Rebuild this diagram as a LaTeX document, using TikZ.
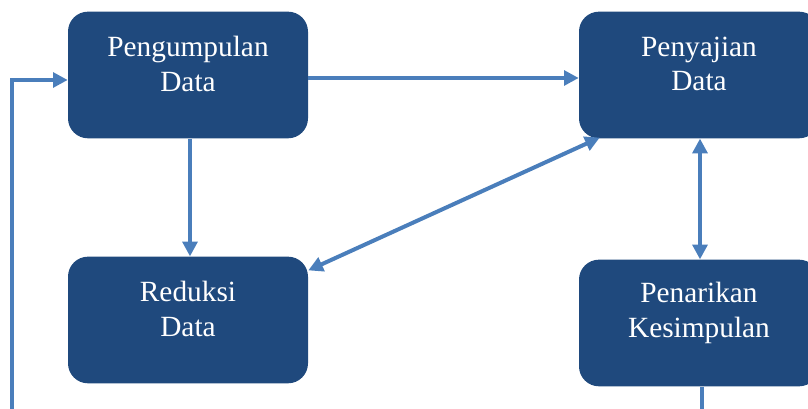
\documentclass[tikz,border=0pt]{standalone}
\usepackage{fontspec}
\setmainfont{Liberation Serif}
\usetikzlibrary{arrows.meta,calc}
\definecolor{boxblue}{RGB}{31,73,125}
\definecolor{linkblue}{RGB}{74,126,187}
\tikzset{
  stepbox/.style={draw=none, fill=boxblue, rounded corners=15pt, minimum width=180pt, minimum height=95pt, inner sep=0pt},
  boxtext/.style={text=white, align=center, inner sep=0pt, font=\fontsize{22pt}{26pt}\selectfont},
  link/.style={draw=linkblue, line width=3pt, -{Triangle[length=11pt,width=11pt]}},
  dlink/.style={draw=linkblue, line width=3pt, {Triangle[length=11pt,width=11pt]}-{Triangle[length=11pt,width=11pt]}},
  plain/.style={draw=linkblue, line width=3pt}
}
\begin{document}
\begin{tikzpicture}[x=0.75pt,y=0.75pt]
\useasboundingbox (0,0) rectangle (808,409);
\clip (0,0) rectangle (808,409);
\node[stepbox] (peng) at (188,334) {};
\node[stepbox] (peny) at (699,334) {};
\node[stepbox] (red) at (188,89) {};
\node[stepbox] (pen) at (699,86) {};
\node[boxtext] (tpeng) at ($(peng.center)+(0,11)$) {Pengumpulan\\Data};
\node[boxtext] (tpeny) at ($(peny.center)+(0,11)$) {Penyajian\\Data};
\node[boxtext] (tred) at ($(red.center)+(0,11)$) {Reduksi\\Data};
\node[boxtext] (tpen) at ($(pen.center)+(0,10)$) {Penarikan\\Kesimpulan};
\coordinate (lb) at (12,-20);
\coordinate (rb) at (702,-20);
\draw[link] (lb) |- ($(peng.west)+(0,-5)$);
\draw[link] ($(peng.east)+(0,-3)$) -- ($(peny.west)+(0,-3)$);
\draw[link] ($(peng.south)+(2,0)$) -- ($(red.north)+(2,0)$);
\draw[dlink] ($(red.north east)+(0,-14)$) -- ($(peny.south west)+(21,1)$);
\draw[dlink] ($(peny.south)+(1,0)$) -- ($(pen.north)+(1,0)$);
\draw[plain] ($(pen.south)+(3,0)$) -- (rb);
\end{tikzpicture}
\end{document}
